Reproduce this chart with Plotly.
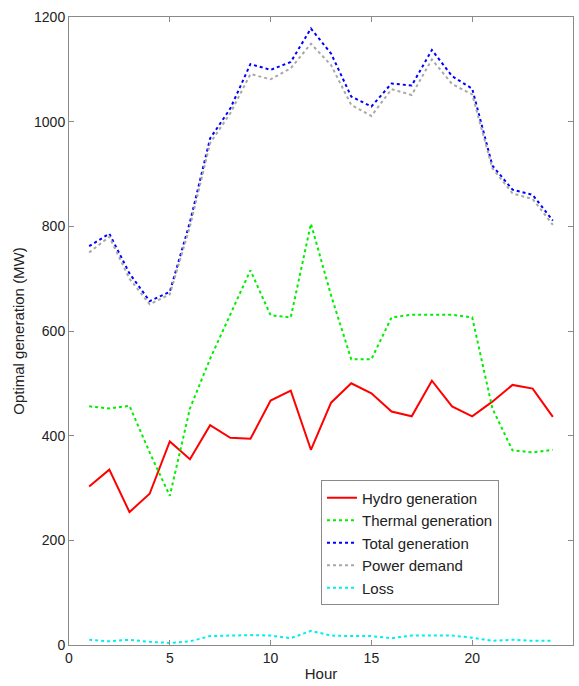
import plotly.graph_objects as go

hours = list(range(1, 25))
hydro = [303, 335, 254, 289, 389, 355, 420, 396, 394, 467, 486, 373,
         463, 500, 481, 446, 437, 505, 456, 437, 465, 497, 490, 436]
thermal = [456, 452, 457, 368, 285, 452, 547, 630, 716, 630, 626, 805,
           668, 546, 546, 626, 631, 631, 631, 626, 452, 372, 368, 373]
total = [762, 786, 710, 657, 675, 808, 968, 1025, 1110, 1099, 1114, 1178,
         1130, 1048, 1029, 1073, 1069, 1137, 1087, 1063, 916, 870, 860, 811]
demand = [750, 780, 700, 651, 670, 800, 959, 1016, 1091, 1081, 1102, 1149,
          1108, 1032, 1011, 1062, 1051, 1119, 1072, 1052, 911, 863, 852, 803]
loss = [10, 7, 10, 6, 4, 7, 17, 18, 19, 18, 13, 27,
        18, 17, 17, 13, 18, 18, 18, 14, 8, 10, 8, 8]

series = [
    ("Hydro generation", hydro, "#ff0000", "solid"),
    ("Thermal generation", thermal, "#00ee00", "dot"),
    ("Total generation", total, "#0000ff", "dot"),
    ("Power demand", demand, "#a8a8a8", "dot"),
    ("Loss", loss, "#00eeee", "dot"),
]

fig = go.Figure()
for name, vals, color, dash in series:
    fig.add_trace(go.Scatter(x=hours, y=vals, name=name, mode="lines",
                             line=dict(color=color, width=2, dash=dash)))

axis_common = dict(showline=True, linecolor="#8a8a8a", linewidth=1, mirror="ticks",
                   ticks="inside", ticklen=5, tickcolor="#8a8a8a", showgrid=False,
                   zeroline=False, tickfont=dict(size=14, color="#222222"))

fig.update_layout(
    width=579, height=686,
    margin=dict(l=69, r=6, t=17, b=41),
    paper_bgcolor="white", plot_bgcolor="white",
    font=dict(family="Liberation Sans, Arial, sans-serif", size=14, color="#222222"),
    xaxis=dict(range=[0, 25], tickvals=[0, 5, 10, 15, 20, 25],
               title=dict(text="Hour", standoff=3, font=dict(size=15)), **axis_common),
    yaxis=dict(range=[0, 1200], tickvals=[0, 200, 400, 600, 800, 1000, 1200],
               title=dict(text="Optimal generation (MW)", standoff=5, font=dict(size=15)),
               **axis_common),
    legend=dict(x=0.5, y=0.262, xanchor="left", yanchor="top",
                bgcolor="white", bordercolor="#8a8a8a", borderwidth=1,
                font=dict(size=15), itemwidth=30, tracegroupgap=0),
    showlegend=True,
)

fig.write_html("out.html")
